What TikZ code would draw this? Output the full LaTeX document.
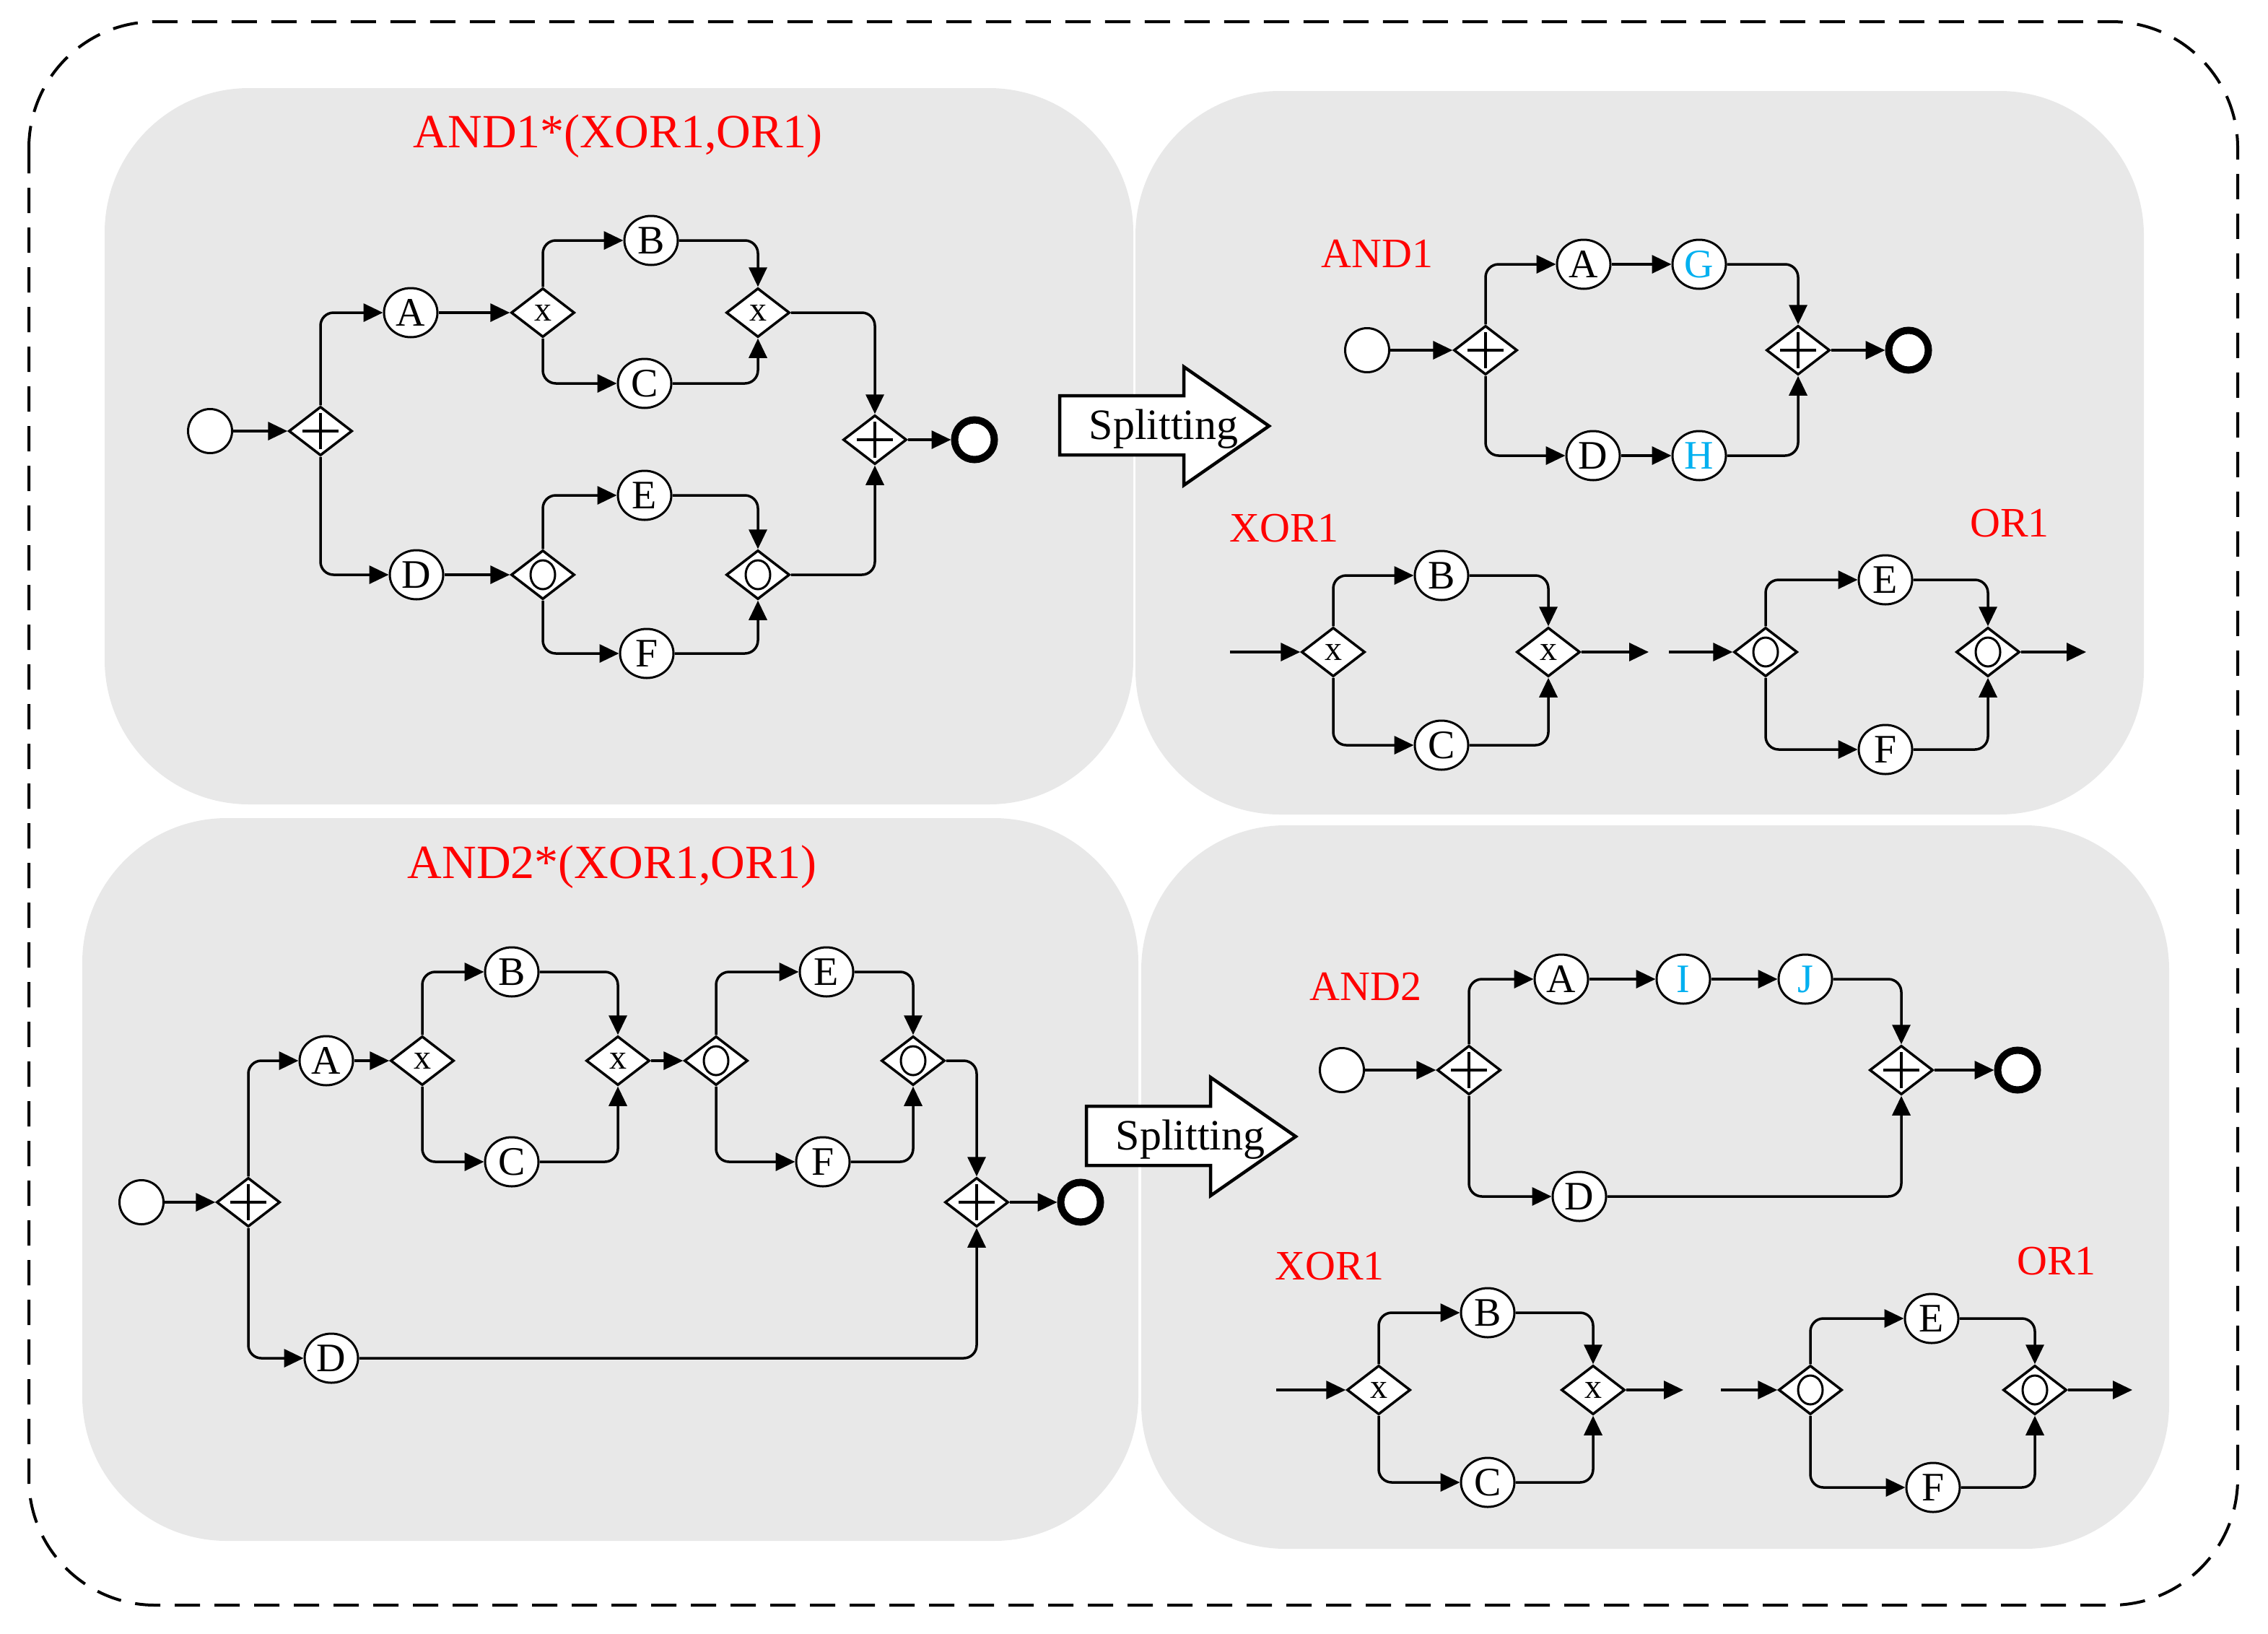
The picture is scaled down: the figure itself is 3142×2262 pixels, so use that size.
\documentclass[tikz,border=0pt]{standalone}
\usepackage{fontspec}
\setmainfont{Liberation Serif}
\usetikzlibrary{arrows.meta,shapes.geometric}
\definecolor{panelgray}{RGB}{232,232,232}
\definecolor{labred}{RGB}{255,0,0}
\definecolor{newblue}{RGB}{0,176,240}
\begin{document}
\begin{tikzpicture}[x=1pt,y=-1pt,
  panel/.style={fill=panelgray, rounded corners=200pt},
  task/.style={ellipse, draw, fill=white, line width=3pt, minimum width=74pt, minimum height=68pt, inner sep=0pt, font=\fontsize{56}{56}\selectfont},
  newtask/.style={task, text=newblue},
  startev/.style={circle, draw, fill=white, line width=3pt, minimum size=61pt, inner sep=0pt},
  endev/.style={circle, draw, fill=white, line width=10pt, minimum size=55pt, inner sep=0pt},
  gw/.style={diamond, draw, fill=white, line width=3.5pt, minimum width=88pt, minimum height=68pt, inner sep=0pt},
  andgw/.style={gw, path picture={
      \draw[line width=4.5pt] ([xshift=-25pt]path picture bounding box.center) -- ([xshift=25pt]path picture bounding box.center);
      \draw[line width=4.5pt] ([yshift=-25pt]path picture bounding box.center) -- ([yshift=25pt]path picture bounding box.center);}},
  xorgw/.style={gw, font=\fontsize{48}{48}\selectfont},
  orgw/.style={gw, path picture={
      \draw[line width=3pt] (path picture bounding box.center) circle[x radius=17pt, y radius=20pt];}},
  arr/.style={line width=3.5pt, -{Triangle[length=27pt,width=25pt]}, rounded corners=18pt},
  lbl/.style={text=labred, font=\fontsize{58}{58}\selectfont, anchor=base, inner sep=0pt},
  ttl/.style={lbl, font=\fontsize{66}{66}\selectfont},
  splitlbl/.style={font=\fontsize{60}{60}\selectfont, anchor=base, inner sep=0pt},
  bigarrow/.style={draw, fill=white, line width=4.5pt, line join=miter}
]
\useasboundingbox (0,0) rectangle (3142,2262);
% outer dashed frame
\draw[line width=4pt, dash pattern=on 35pt off 20pt, rounded corners=175pt] (40,30) rectangle (3100,2223);
% panels
\fill[panel] (145,122) rectangle (1570,1114);
\fill[panel] (1573,126) rectangle (2970,1128);
\fill[panel] (114,1133) rectangle (1577,2134);
\fill[panel] (1581,1143) rectangle (3005,2145);

% ===== Top-left =====
\node[ttl] (t1) at (856,204) {AND1*(XOR1,OR1)};
\node[startev] (a_s) at (291,597) {};
\node[andgw] (a_g1) at (444,597) {};
\node[task] (a_A) at (569,433) {A};
\node[xorgw] (a_x1) at (752,433) {x};
\node[task] (a_B) at (902,333) {B};
\node[task] (a_C) at (893,531) {C};
\node[xorgw] (a_x2) at (1050,433) {x};
\node[task] (a_D) at (577,796) {D};
\node[orgw] (a_o1) at (752,796) {};
\node[task] (a_E) at (893,686) {E};
\node[task] (a_F) at (896,905) {F};
\node[orgw] (a_o2) at (1050,796) {};
\node[andgw] (a_g2) at (1212,609) {};
\node[endev] (a_e) at (1350,609) {};
\draw[arr] (a_s) -- (a_g1);
\draw[arr] (a_g1.north) |- (a_A);
\draw[arr] (a_g1.south) |- (a_D);
\draw[arr] (a_A) -- (a_x1);
\draw[arr] (a_x1.north) |- (a_B);
\draw[arr] (a_x1.south) |- (a_C);
\draw[arr] (a_B) -| (a_x2.north);
\draw[arr] (a_C) -| (a_x2.south);
\draw[arr] (a_x2) -| (a_g2.north);
\draw[arr] (a_D) -- (a_o1);
\draw[arr] (a_o1.north) |- (a_E);
\draw[arr] (a_o1.south) |- (a_F);
\draw[arr] (a_E) -| (a_o2.north);
\draw[arr] (a_F) -| (a_o2.south);
\draw[arr] (a_o2) -| (a_g2.south);
\draw[arr] (a_g2) -- (a_e);

% Splitting arrow 1
\draw[bigarrow] (1468,548) -- (1640,548) -- (1640,508) -- (1758,590) -- (1640,672) -- (1640,630) -- (1468,630) -- cycle;
\node[splitlbl] (sp1) at (1612,608) {Splitting};

% ===== Top-right =====
\node[lbl] (t2) at (1908,370) {AND1};
\node[startev] (b_s) at (1894,485) {};
\node[andgw] (b_g1) at (2058,485) {};
\node[task] (b_A) at (2194,366) {A};
\node[newtask] (b_G) at (2354,366) {G};
\node[task] (b_D) at (2207,631) {D};
\node[newtask] (b_H) at (2354,631) {H};
\node[andgw] (b_g2) at (2491,485) {};
\node[endev] (b_e) at (2644,485) {};
\draw[arr] (b_s) -- (b_g1);
\draw[arr] (b_g1.north) |- (b_A);
\draw[arr] (b_A) -- (b_G);
\draw[arr] (b_G) -| (b_g2.north);
\draw[arr] (b_g1.south) |- (b_D);
\draw[arr] (b_D) -- (b_H);
\draw[arr] (b_H) -| (b_g2.south);
\draw[arr] (b_g2) -- (b_e);

\node[lbl] (t3) at (1779,750) {XOR1};
\coordinate (c_in) at (1704,903);
\node[xorgw] (c_x1) at (1847,903) {x};
\node[task] (c_B) at (1997,797) {B};
\node[task] (c_C) at (1997,1032) {C};
\node[xorgw] (c_x2) at (2145,903) {x};
\coordinate (c_out) at (2284,903);
\draw[arr] (c_in) -- (c_x1);
\draw[arr] (c_x1.north) |- (c_B);
\draw[arr] (c_x1.south) |- (c_C);
\draw[arr] (c_B) -| (c_x2.north);
\draw[arr] (c_C) -| (c_x2.south);
\draw[arr] (c_x2) -- (c_out);

\node[lbl] (t4) at (2784,743) {OR1};
\coordinate (d_in) at (2312,903);
\node[orgw] (d_o1) at (2446,903) {};
\node[task] (d_E) at (2612,803) {E};
\node[task] (d_F) at (2612,1038) {F};
\node[orgw] (d_o2) at (2754,903) {};
\coordinate (d_out) at (2890,903);
\draw[arr] (d_in) -- (d_o1);
\draw[arr] (d_o1.north) |- (d_E);
\draw[arr] (d_o1.south) |- (d_F);
\draw[arr] (d_E) -| (d_o2.north);
\draw[arr] (d_F) -| (d_o2.south);
\draw[arr] (d_o2) -- (d_out);

% ===== Bottom-left =====
\node[ttl] (t5) at (848,1216) {AND2*(XOR1,OR1)};
\node[startev] (e_s) at (196,1665) {};
\node[andgw] (e_g1) at (344,1665) {};
\node[task] (e_A) at (452,1469) {A};
\node[xorgw] (e_x1) at (585,1469) {x};
\node[task] (e_B) at (709,1346) {B};
\node[task] (e_C) at (709,1609) {C};
\node[xorgw] (e_x2) at (856,1469) {x};
\node[orgw] (e_o1) at (992,1469) {};
\node[task] (e_E) at (1145,1346) {E};
\node[task] (e_F) at (1140,1609) {F};
\node[orgw] (e_o2) at (1265,1469) {};
\node[andgw] (e_g2) at (1353,1665) {};
\node[endev] (e_e) at (1497,1665) {};
\node[task] (e_D) at (459,1881) {D};
\draw[arr] (e_s) -- (e_g1);
\draw[arr] (e_g1.north) |- (e_A);
\draw[arr] (e_g1.south) |- (e_D);
\draw[arr] (e_A) -- (e_x1);
\draw[arr] (e_x1.north) |- (e_B);
\draw[arr] (e_x1.south) |- (e_C);
\draw[arr] (e_B) -| (e_x2.north);
\draw[arr] (e_C) -| (e_x2.south);
\draw[arr] (e_x2) -- (e_o1);
\draw[arr] (e_o1.north) |- (e_E);
\draw[arr] (e_o1.south) |- (e_F);
\draw[arr] (e_E) -| (e_o2.north);
\draw[arr] (e_F) -| (e_o2.south);
\draw[arr] (e_o2) -| (e_g2.north);
\draw[arr] (e_D) -| (e_g2.south);
\draw[arr] (e_g2) -- (e_e);

% Splitting arrow 2
\draw[bigarrow] (1505,1532) -- (1677,1532) -- (1677,1492) -- (1795,1574) -- (1677,1656) -- (1677,1614) -- (1505,1614) -- cycle;
\node[splitlbl] (sp2) at (1649,1592) {Splitting};

% ===== Bottom-right =====
\node[lbl] (t6) at (1892,1385) {AND2};
\node[startev] (f_s) at (1859,1482) {};
\node[andgw] (f_g1) at (2035,1482) {};
\node[task] (f_A) at (2163,1356) {A};
\node[newtask] (f_I) at (2332,1356) {I};
\node[newtask] (f_J) at (2501,1356) {J};
\node[andgw] (f_g2) at (2634,1482) {};
\node[endev] (f_e) at (2795,1482) {};
\node[task] (f_D) at (2188,1657) {D};
\draw[arr] (f_s) -- (f_g1);
\draw[arr] (f_g1.north) |- (f_A);
\draw[arr] (f_A) -- (f_I);
\draw[arr] (f_I) -- (f_J);
\draw[arr] (f_J) -| (f_g2.north);
\draw[arr] (f_g1.south) |- (f_D);
\draw[arr] (f_D) -| (f_g2.south);
\draw[arr] (f_g2) -- (f_e);

\node[lbl] (t7) at (1842,1772) {XOR1};
\coordinate (g_in) at (1768,1925);
\node[xorgw] (g_x1) at (1910,1925) {x};
\node[task] (g_B) at (2061,1818) {B};
\node[task] (g_C) at (2061,2053) {C};
\node[xorgw] (g_x2) at (2207,1925) {x};
\coordinate (g_out) at (2332,1925);
\draw[arr] (g_in) -- (g_x1);
\draw[arr] (g_x1.north) |- (g_B);
\draw[arr] (g_x1.south) |- (g_C);
\draw[arr] (g_B) -| (g_x2.north);
\draw[arr] (g_C) -| (g_x2.south);
\draw[arr] (g_x2) -- (g_out);

\node[lbl] (t8) at (2849,1765) {OR1};
\coordinate (h_in) at (2384,1925);
\node[orgw] (h_o1) at (2508,1925) {};
\node[task] (h_E) at (2676,1826) {E};
\node[task] (h_F) at (2678,2060) {F};
\node[orgw] (h_o2) at (2819,1925) {};
\coordinate (h_out) at (2954,1925);
\draw[arr] (h_in) -- (h_o1);
\draw[arr] (h_o1.north) |- (h_E);
\draw[arr] (h_o1.south) |- (h_F);
\draw[arr] (h_E) -| (h_o2.north);
\draw[arr] (h_F) -| (h_o2.south);
\draw[arr] (h_o2) -- (h_out);
\end{tikzpicture}
\end{document}
